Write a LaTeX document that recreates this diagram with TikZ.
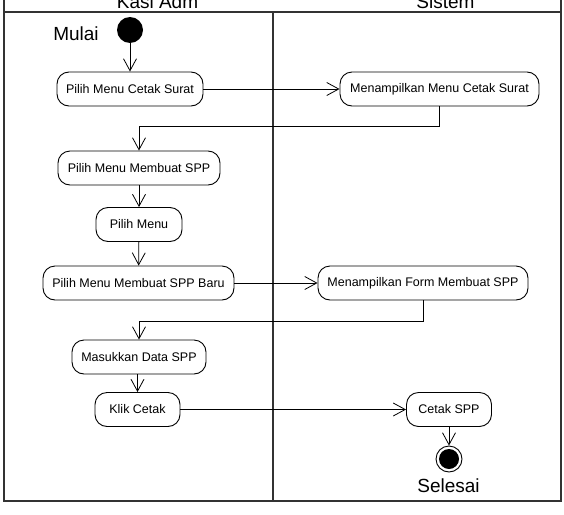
\documentclass[tikz,border=0pt]{standalone}
\usepackage{fontspec}
\setmainfont{Liberation Sans}
\usetikzlibrary{arrows.meta}
\begin{document}
\begin{tikzpicture}[x=1pt,y=-1pt,
  act/.style={draw, line width=0.9pt, rounded corners=12pt, minimum height=34pt, inner sep=0pt, font=\fontsize{12.5}{14}\selectfont},
  flow/.style={line width=0.8pt, -{Straight Barb[length=12pt,width=13pt,line width=0.8pt]}},
  lane/.style={line width=1.4pt, draw=black!80},
  big/.style={anchor=base, inner sep=0pt, font=\fontsize{19}{22}\selectfont}]
\useasboundingbox (0,0) rectangle (564,514);
\clip (0,0) rectangle (564,514);
% swimlanes
\draw[lane] (4,-5) -- (4,501) -- (561,501) -- (561,-5);
\draw[lane] (4,12) -- (561,12);
\draw[lane] (273,12) -- (273,501);
\node[big] (h1) at (157.5,9) {Kasi Adm};
\node[big] (h2) at (445.5,9) {Sistem};
% start / end
\node[circle, fill, minimum size=26pt, inner sep=0pt] (start) at (130,30) {};
\node[big] (mulai) at (76,40) {Mulai};
\node[circle, draw, line width=0.9pt, minimum size=26pt, inner sep=0pt] (end) at (449,459) {};
\node[circle, fill, minimum size=20pt, inner sep=0pt] (endin) at (449,459) {};
\node[big] (selesai) at (448.5,492) {Selesai};
% activities
\node[act, minimum width=146pt] (a1) at (130,89) {Pilih Menu Cetak Surat};
\node[act, minimum width=199pt] (b1) at (439.5,89) {Menampilkan Menu Cetak Surat};
\node[act, minimum width=162pt] (a2) at (139,168) {Pilih Menu Membuat SPP};
\node[act, minimum width=86pt] (a3) at (139,224.5) {Pilih Menu};
\node[act, minimum width=191pt] (a4) at (138.5,283) {Pilih Menu Membuat SPP Baru};
\node[act, minimum width=210pt] (b2) at (423,283) {Menampilkan Form Membuat SPP};
\node[act, minimum width=134pt] (a5) at (139,357) {Masukkan Data SPP};
\node[act, minimum width=85pt] (a6) at (137.5,409.5) {Klik Cetak};
\node[act, minimum width=85pt] (b3) at (449,409.5) {Cetak SPP};
% flows
\draw[flow] (start) -- (a1);
\draw[flow] (a1) -- (b1);
\draw[flow] (b1.south) -- ++(0,20) -| (a2.north);
\draw[flow] (a2) -- (a3);
\draw[flow] (a3) -- (a4);
\draw[flow] (a4) -- (b2);
\draw[flow] (b2.south) -- ++(0,21) -| (a5.north);
\draw[flow] (a6.north |- a5.south) -- (a6.north);
\draw[flow] (a6) -- (b3);
\draw[flow] (b3) -- (end);
\end{tikzpicture}
\end{document}
